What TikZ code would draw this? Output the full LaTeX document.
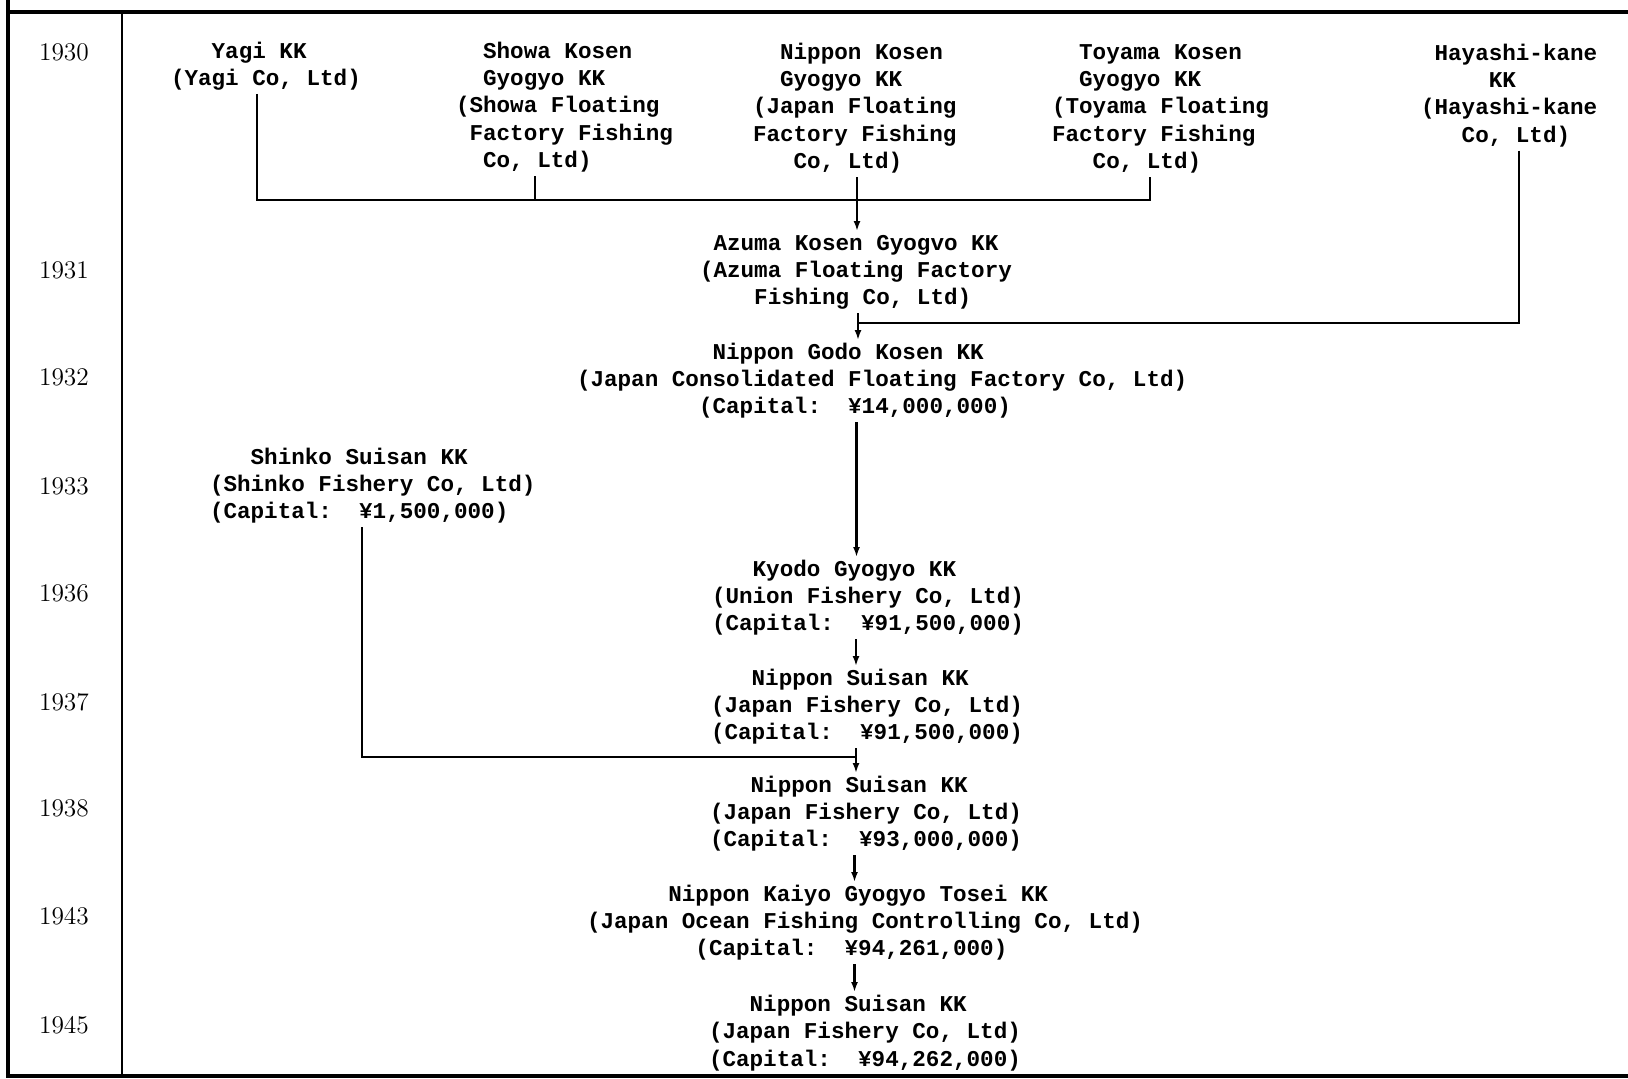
\documentclass[tikz,border=0pt]{standalone}
\usepackage{fontspec}
\usetikzlibrary{arrows.meta}
\newfontfamily\twfont{Liberation Mono}
\newcommand\cofont{\fontsize{11.3}{13.7}\selectfont\twfont\bfseries\frenchspacing}
\newcommand\yrfont{\fontsize{12.7}{15}\selectfont\rmfamily}
\newcommand\tind[1]{\hspace*{#1\dimexpr0.6em\relax}}
\begin{document}
\begin{tikzpicture}[x=0.5pt,y=-0.5pt,
  co/.style={anchor=north west,inner sep=0pt,outer sep=0pt,align=left,font=\cofont},
  yr/.style={anchor=base,inner sep=0pt,font=\yrfont},
  frame/.style={line width=1.6pt},
  link/.style={line width=1.1pt},
  arr/.style={link,-{Latex[length=5pt,width=3.5pt]}}]
\useasboundingbox (0,0) rectangle (1628,1078);
% frame
\draw[frame] (8,0) -- (8,1076) -- (1628,1076);
\draw[frame] (8,12) -- (1628,12);
\draw[line width=1.2pt] (122,12) -- (122,1076);
% years
\node[yr] (y1930) at (64,60.6) {1930};
\node[yr] (y1931) at (64,278.7) {1931};
\node[yr] (y1932) at (64,385.6) {1932};
\node[yr] (y1933) at (64,494.7) {1933};
\node[yr] (y1936) at (64,601.2) {1936};
\node[yr] (y1937) at (64,710) {1937};
\node[yr] (y1938) at (64,816.5) {1938};
\node[yr] (y1943) at (64,924.5) {1943};
\node[yr] (y1945) at (64,1033.5) {1945};
% companies
\node[co] (yagi) at (171,39) {\strut\tind{3}Yagi KK\\(Yagi Co, Ltd)\strut};
\node[co] (showa) at (456,39) {\strut\tind{2}Showa Kosen\\\tind{2}Gyogyo KK\\(Showa Floating\\\tind{1}Factory Fishing\\\tind{2}Co, Ltd)\strut};
\node[co] (nkosen) at (753,40) {\strut\tind{2}Nippon Kosen\\\tind{2}Gyogyo KK\\(Japan Floating\\Factory Fishing\\\tind{3}Co, Ltd)\strut};
\node[co] (toyama) at (1052,40) {\strut\tind{2}Toyama Kosen\\\tind{2}Gyogyo KK\\(Toyama Floating\\Factory Fishing\\\tind{3}Co, Ltd)\strut};
\node[co] (hayashi) at (1421,41) {\strut\tind{1}Hayashi-kane\\\tind{5}KK\\(Hayashi-kane\\\tind{3}Co, Ltd)\strut};
\node[co] (azuma) at (700,231) {\strut\tind{1}Azuma Kosen Gyogvo KK\\(Azuma Floating Factory\\\tind{4}Fishing Co, Ltd)\strut};
\node[co] (godo) at (577,340) {\strut\tind{10}Nippon Godo Kosen KK\\(Japan Consolidated Floating Factory Co, Ltd)\\\tind{9}(Capital:\tind{2}¥14,000,000)\strut};
\node[co] (shinko) at (210,445) {\strut\tind{3}Shinko Suisan KK\\(Shinko Fishery Co, Ltd)\\(Capital:\tind{2}¥1,500,000)\strut};
\node[co] (kyodo) at (712,557) {\strut\tind{3}Kyodo Gyogyo KK\\(Union Fishery Co, Ltd)\\(Capital:\tind{2}¥91,500,000)\strut};
\node[co] (ns37) at (711,666) {\strut\tind{3}Nippon Suisan KK\\(Japan Fishery Co, Ltd)\\(Capital:\tind{2}¥91,500,000)\strut};
\node[co] (ns38) at (710,773) {\strut\tind{3}Nippon Suisan KK\\(Japan Fishery Co, Ltd)\\(Capital:\tind{2}¥93,000,000)\strut};
\node[co] (kaiyo) at (587,882) {\strut\tind{6}Nippon Kaiyo Gyogyo Tosei KK\\(Japan Ocean Fishing Controlling Co, Ltd)\\\tind{8}(Capital:\tind{2}¥94,261,000)\strut};
\node[co] (ns45) at (709,992) {\strut\tind{3}Nippon Suisan KK\\(Japan Fishery Co, Ltd)\\(Capital:\tind{2}¥94,262,000)\strut};
% junction points
\coordinate (jA) at (257,200);
\coordinate (jB) at (535,200);
\coordinate (jC) at (857,200);
\coordinate (jD) at (1150,200);
\coordinate (jH) at (1519,323);
\coordinate (jE) at (858,323);
\coordinate (jS) at (362,757);
\coordinate (jF) at (856,757);
\coordinate (xG) at (856.5,0);
\coordinate (xL) at (854.5,0);
% connectors
\draw[link] (yagi.south -| jA) -- (jA) -- (jD) -- (toyama.south -| jD);
\draw[link] (showa.south -| jB) -- (jB);
\draw[arr] (nkosen.south -| jC) -- (azuma.north -| jC);
\draw[link] (hayashi.south -| jH) -- (jH) -- (jE);
\draw[arr] (azuma.south -| jE) -- (godo.north -| jE);
\draw[arr] (godo.south -| xG) -- (kyodo.north -| xG);
\draw[arr] (kyodo.south -| jF) -- (ns37.north -| jF);
\draw[link] (shinko.south -| jS) -- (jS) -- (jF);
\draw[arr] (ns37.south -| jF) -- (ns38.north -| jF);
\draw[arr] (ns38.south -| xL) -- (kaiyo.north -| xL);
\draw[arr] (kaiyo.south -| xL) -- (ns45.north -| xL);
\end{tikzpicture}
\end{document}
